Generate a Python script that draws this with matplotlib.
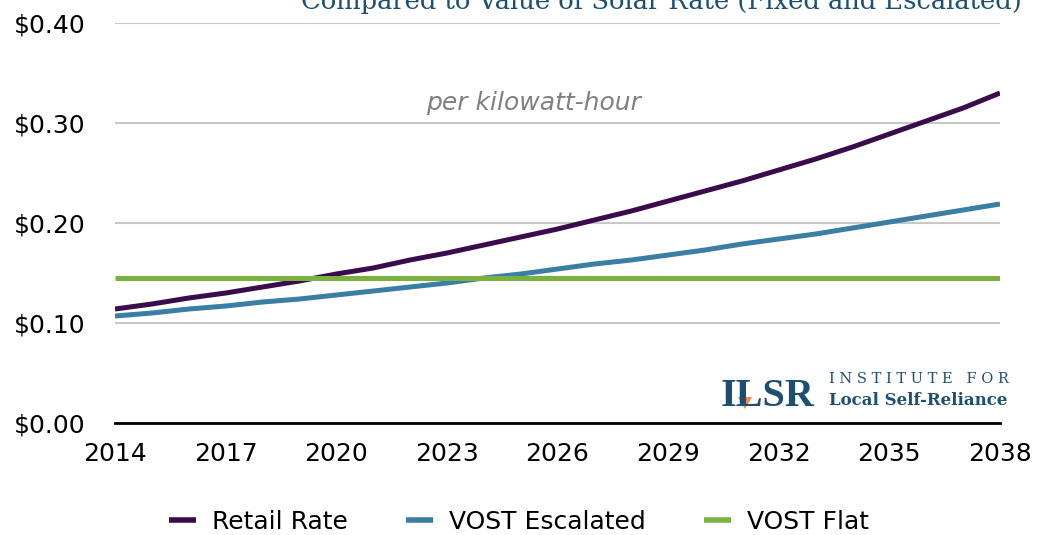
import matplotlib
matplotlib.use("Agg")
import matplotlib.pyplot as plt
from matplotlib.patches import Polygon
from matplotlib.ticker import FuncFormatter

years = list(range(2014, 2039))
retail_rate = [0.114, 0.119, 0.125, 0.130, 0.136, 0.142, 0.149, 0.155, 0.163,
               0.170, 0.178, 0.186, 0.194, 0.203, 0.212, 0.222, 0.232, 0.242,
               0.253, 0.264, 0.276, 0.289, 0.302, 0.315, 0.330]
vost_escalated = [0.107, 0.110, 0.114, 0.117, 0.121, 0.124, 0.128, 0.132, 0.136,
                  0.140, 0.145, 0.149, 0.154, 0.159, 0.163, 0.168, 0.173, 0.179,
                  0.184, 0.189, 0.195, 0.201, 0.207, 0.213, 0.219]
vost_flat = [0.145] * len(years)
x_ticks = [2014, 2017, 2020, 2023, 2026, 2029, 2032, 2035, 2038]
y_ticks = [0.0, 0.1, 0.2, 0.3, 0.4]

plt.rcParams['font.family'] = ['DejaVu Sans']
navy = '#1d4f72'

fig = plt.figure(figsize=(10.37, 5.35), dpi=100)
ax = fig.add_axes([0.1109, 0.2093, 0.8534, 0.7477])

ax.plot(years, retail_rate, color='#3a0c4b', lw=3.6, label='Retail Rate', solid_capstyle='butt')
ax.plot(years, vost_escalated, color='#3a7fa3', lw=3.6, label='VOST Escalated', solid_capstyle='butt')
ax.plot(years, vost_flat, color='#7ab140', lw=3.6, label='VOST Flat', solid_capstyle='butt')

ax.set_xlim(2014, 2038)
ax.set_ylim(0, 0.40)
ax.set_xticks(x_ticks)
ax.set_yticks(y_ticks)
ax.yaxis.set_major_formatter(FuncFormatter(lambda v, p: f'${v:.2f}'))
ax.tick_params(axis='both', length=0, labelsize=18)
ax.tick_params(axis='y', pad=21)
ax.tick_params(axis='x', pad=14)
ax.grid(axis='y', color='#c8c8c8', lw=1.5)
ax.set_axisbelow(True)
for s in ['top', 'right', 'left']:
    ax.spines[s].set_visible(False)
ax.spines['bottom'].set_color('black')
ax.spines['bottom'].set_linewidth(2)
ax.spines['bottom'].set_zorder(5)

# title, cut off at the top in the original
fig.text(1022 / 1037, 1 - 9 / 535, 'Compared to Value of Solar Rate (Fixed and Escalated)',
         ha='right', va='baseline', fontsize=18.5, color=navy, family='DejaVu Serif')

ax.text(2025.34, 0.32, 'per kilowatt-hour', ha='center', va='center', fontsize=18,
        style='italic', color='#808080')

# ILSR logo as text
fig.text(721 / 1037, 1 - 406 / 535, 'ILSR', ha='left', va='baseline', fontsize=29,
         family='Liberation Serif', weight='bold', color=navy)
fig.patches.append(Polygon([[738 / 1037, 1 - 397 / 535], [752 / 1037, 1 - 397 / 535],
                            [745 / 1037, 1 - 409 / 535]], closed=True,
                           transform=fig.transFigure, facecolor='#f28a4b', edgecolor='none'))
fig.text(829 / 1037, 1 - 383 / 535, 'I N S T I T U T E   F O R', ha='left', va='baseline',
         fontsize=10.5, family='DejaVu Serif', color=navy)
fig.text(829 / 1037, 1 - 405 / 535, 'Local Self-Reliance', ha='left', va='baseline',
         fontsize=12, family='DejaVu Serif', weight='bold', color=navy)

leg = fig.legend(loc='center', bbox_to_anchor=(519 / 1037, 1 - 522 / 535), ncol=3, frameon=False,
                 fontsize=18, handlelength=1.1, handletextpad=0.65, columnspacing=2.3,
                 borderpad=0.1)
for line in leg.get_lines():
    line.set_linewidth(4)

fig.savefig('out.png', dpi=100, facecolor='white')
